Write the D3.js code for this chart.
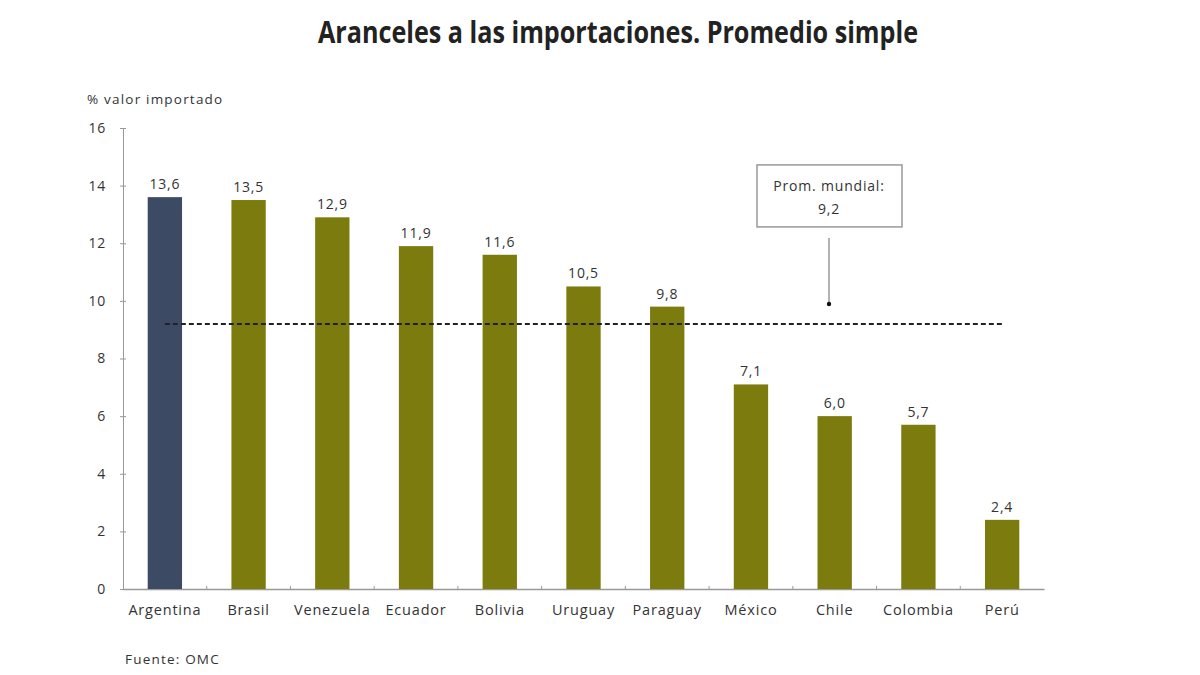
<!DOCTYPE html>
<html>
<head>
<meta charset="utf-8">
<script src="https://cdn.jsdelivr.net/npm/d3@7"></script>
<style>
  body { margin: 0; background: #fff; }
  text { font-family: "Open Sans", "DejaVu Sans", sans-serif; letter-spacing: 0.8px; }
</style>
</head>
<body>
<div id="chart"></div>
<script>
// datos
const paises = ["Argentina", "Brasil", "Venezuela", "Ecuador", "Bolivia", "Uruguay", "Paraguay", "México", "Chile", "Colombia", "Perú"];
const aranceles = [13.6, 13.5, 12.9, 11.9, 11.6, 10.5, 9.8, 7.1, 6.0, 5.7, 2.4];
const promMundial = 9.2;
const yTicks = [0, 2, 4, 6, 8, 10, 12, 14, 16];

const data = paises.map((p, i) => ({ pais: p, valor: aranceles[i] }));

const width = 1200, height = 675;
const margin = { top: 128, right: 156, bottom: 86, left: 123 };

const svg = d3.select("#chart").append("svg")
    .attr("width", width)
    .attr("height", height);

const fmt = v => d3.format(".1f")(v).replace(".", ",");

// titulo (tipografia condensada: se ajusta al ancho)
svg.append("text")
    .attr("x", 318)
    .attr("y", 43)
    .attr("textLength", 600)
    .attr("lengthAdjust", "spacingAndGlyphs")
    .attr("font-size", "31px")
    .attr("font-weight", "bold")
    .attr("fill", "#222")
    .style("letter-spacing", "0px")
    .text("Aranceles a las importaciones. Promedio simple");

const g = svg.append("g")
    .attr("transform", `translate(${margin.left},${margin.top})`);

const innerW = width - margin.left - margin.right;
const innerH = height - margin.top - margin.bottom;

const x = d3.scaleBand()
    .domain(paises)
    .range([0, innerW])
    .paddingInner(0.59)
    .paddingOuter(0.295);

const y = d3.scaleLinear()
    .domain([0, 16])
    .range([innerH, 0]);

// eje Y
const yAxis = g.append("g")
    .call(d3.axisLeft(y).tickValues(yTicks).tickSize(3).tickPadding(14));
yAxis.select(".domain").attr("stroke", "#999");
yAxis.selectAll(".tick line").attr("stroke", "#999").attr("x2", 3).attr("x1", -3);
yAxis.selectAll(".tick text").attr("font-size", "14px").attr("fill", "#333");

// eje X
const xAxis = g.append("g")
    .attr("transform", `translate(0,${innerH})`)
    .call(d3.axisBottom(x).tickSize(0).tickPadding(16));
xAxis.select(".domain").attr("stroke", "#999").attr("stroke-width", 1.5);
xAxis.selectAll(".tick text").attr("font-size", "14.5px").attr("fill", "#333");

// marcas entre categorias
g.selectAll(".sep")
    .data(paises.slice(1))
    .enter()
    .append("line")
    .attr("x1", d => x(d) - x.step() * x.paddingInner() / 2)
    .attr("x2", d => x(d) - x.step() * x.paddingInner() / 2)
    .attr("y1", innerH)
    .attr("y2", innerH - 3)
    .attr("stroke", "#999");

// barras
g.selectAll(".bar")
    .data(data)
    .enter()
    .append("rect")
    .attr("x", d => x(d.pais))
    .attr("y", d => y(d.valor))
    .attr("width", x.bandwidth())
    .attr("height", d => innerH - y(d.valor))
    .attr("fill", d => d.pais === "Argentina" ? "#3d4a64" : "#7b7b0e");

// etiquetas de valor
g.selectAll(".lbl")
    .data(data)
    .enter()
    .append("text")
    .attr("x", d => x(d.pais) + x.bandwidth() / 2)
    .attr("y", d => y(d.valor) - 8)
    .attr("text-anchor", "middle")
    .attr("font-size", "14px")
    .attr("fill", "#333")
    .text(d => fmt(d.valor));

// linea promedio mundial
const xIni = x(paises[0]) + x.bandwidth() / 2;
const xFin = x(paises[paises.length - 1]) + x.bandwidth() / 2;
g.append("line")
    .attr("x1", xIni)
    .attr("x2", xFin)
    .attr("y1", y(promMundial))
    .attr("y2", y(promMundial))
    .attr("stroke", "#222")
    .attr("stroke-width", 2)
    .attr("stroke-dasharray", "5,3");

// anotacion
const ax = 706;
g.append("line")
    .attr("x1", ax).attr("x2", ax)
    .attr("y1", y(promMundial) - 86)
    .attr("y2", y(promMundial) - 21)
    .attr("stroke", "#999")
    .attr("stroke-width", 1.5);
g.append("circle")
    .attr("cx", ax)
    .attr("cy", y(promMundial) - 20)
    .attr("r", 2.2)
    .attr("fill", "#111");
g.append("rect")
    .attr("x", ax - 72)
    .attr("y", y(promMundial) - 159)
    .attr("width", 145)
    .attr("height", 62)
    .attr("fill", "#fff")
    .attr("stroke", "#999")
    .attr("stroke-width", 1.5);
g.append("text")
    .attr("x", ax)
    .attr("y", y(promMundial) - 133)
    .attr("text-anchor", "middle")
    .attr("font-size", "14px")
    .attr("fill", "#333")
    .text("Prom. mundial:");
g.append("text")
    .attr("x", ax)
    .attr("y", y(promMundial) - 110)
    .attr("text-anchor", "middle")
    .attr("font-size", "14px")
    .attr("fill", "#333")
    .text(fmt(promMundial));

// titulo eje y
svg.append("text")
    .attr("x", 87)
    .attr("y", 104)
    .attr("font-size", "13.5px")
    .attr("fill", "#333")
    .style("letter-spacing", "1.2px")
    .text("% valor importado");

// fuente
svg.append("text")
    .attr("x", 125)
    .attr("y", 664)
    .attr("font-size", "13.5px")
    .attr("fill", "#333")
    .style("letter-spacing", "1.2px")
    .text("Fuente: OMC");
</script>
</body>
</html>
